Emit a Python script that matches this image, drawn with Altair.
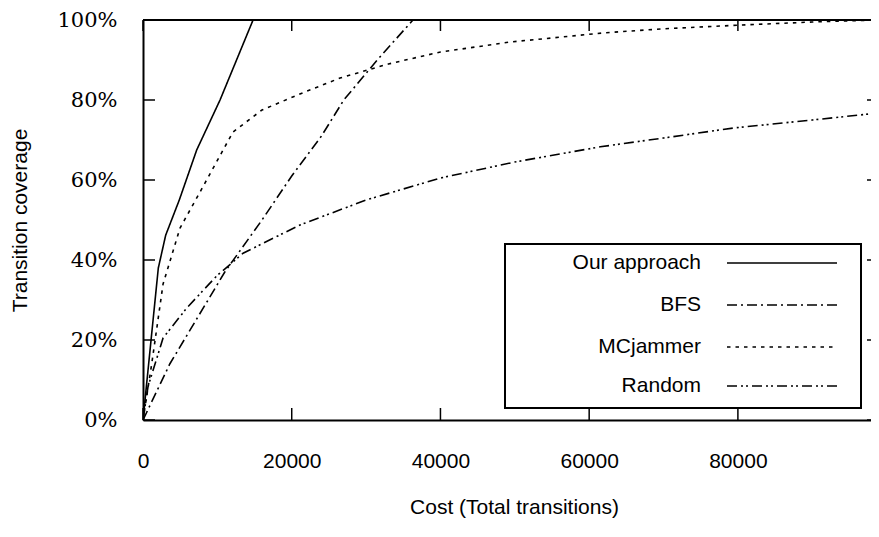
import altair as alt
import pandas as pd

series_names = ["Our approach", "BFS", "MCjammer", "Random"]

our_x = [0, 2060, 3050, 4880, 7220, 10360, 14800]
our_y = [0, 38, 46.2, 55, 67.5, 80, 100]

bfs_x = [0, 3600, 11000, 16000, 20000, 24000, 27000, 31500, 36300]
bfs_y = [0, 14, 37, 50, 61, 71, 80, 90, 100]

mc_x = [0, 1170, 2700, 4980, 7670, 12100, 16000, 21100, 26500, 33000, 40000, 49400, 62100, 70000, 80000, 90000, 98900]
mc_y = [0, 14, 34, 48, 57, 72, 77.5, 81.5, 85.5, 89, 92, 94.5, 96.8, 97.8, 98.7, 99.5, 100]

rnd_x = [0, 670, 2700, 5880, 9900, 13460, 21100, 30000, 40000, 50000, 61500, 70000, 79400, 90000, 98900]
rnd_y = [0, 8.3, 20.5, 28, 36, 41.7, 48.75, 55, 60.5, 64.5, 68.3, 70.5, 73, 75, 76.75]

x_ticks = [0, 20000, 40000, 60000, 80000]
y_ticks = [0, 20, 40, 60, 80, 100]

dashes = [[1, 0], [10, 4, 2, 4], [3.5, 5], [10, 4, 2, 3, 2, 4]]

rows = []
for name, xs, ys in zip(series_names, [our_x, bfs_x, mc_x, rnd_x], [our_y, bfs_y, mc_y, rnd_y]):
    for i, (xv, yv) in enumerate(zip(xs, ys)):
        rows.append({"series": name, "cost": xv, "cov": yv, "order": i})
df = pd.DataFrame(rows)

W, H = 728, 400
X_MAX = 97900

SANS = "Liberation Sans"
SERIF = "DejaVu Serif"
FS = 21

xscale = alt.Scale(domain=[0, X_MAX], nice=False, zero=False)
yscale = alt.Scale(domain=[0, 100], nice=False)

x_axis = alt.Axis(
    values=x_ticks, format="d", title="Cost (Total transitions)",
    ticks=False, tickSize=0, labelPadding=41, labelBaseline="middle",
    labelFont=SANS, labelFontSize=FS, labelColor="black",
    labelFlush=False, labelOverlap=False,
    domainColor="black", domainWidth=2, grid=False,
    titleFont=SANS, titleFontSize=FS, titleFontWeight="normal", titleColor="black",
    titleX=371, titleY=87, titleBaseline="middle", titleAlign="center")
y_axis = alt.Axis(
    values=y_ticks, labelExpr="datum.value + '%'", title="Transition coverage",
    ticks=False, tickSize=0, labelPadding=26, labelBaseline="middle",
    labelFont=SERIF, labelFontSize=FS, labelColor="black",
    labelFlush=False, labelOverlap=False,
    domainColor="black", domainWidth=2, grid=False,
    titleFont=SANS, titleFontSize=FS, titleFontWeight="normal", titleColor="black",
    titleX=-123, titleY=200, titleAngle=-90, titleBaseline="middle", titleAlign="center")

X = lambda: alt.X("cost:Q", scale=xscale, axis=x_axis)
Y = lambda: alt.Y("cov:Q", scale=yscale, axis=y_axis)

lines = alt.Chart(df).mark_line(strokeWidth=1.6, color="black", clip=True).encode(
    x=X(), y=Y(),
    strokeDash=alt.StrokeDash("series:N", scale=alt.Scale(domain=series_names, range=dashes), legend=None),
    detail="series:N",
    order="order:Q",
)

xt = pd.DataFrame({"cost": x_ticks})
yt = pd.DataFrame({"cov": y_ticks})

bottom_ticks = alt.Chart(xt).mark_rule(color="black", strokeWidth=1.5).encode(
    x=X(), y=alt.value(H), y2=alt.value(H - 12))
top_ticks = alt.Chart(xt).mark_rule(color="black", strokeWidth=1.5).encode(
    x=X(), y=alt.value(0), y2=alt.value(11))
left_ticks = alt.Chart(yt).mark_rule(color="black", strokeWidth=1.5).encode(
    y=Y(), x=alt.value(0), x2=alt.value(12))
right_ticks = alt.Chart(yt).mark_rule(color="black", strokeWidth=1.5).encode(
    y=Y(), x=alt.value(W - 4), x2=alt.value(W))
top_border = alt.Chart(pd.DataFrame({"a": [0]})).mark_rule(color="black", strokeWidth=2).encode(
    x=alt.value(0), x2=alt.value(W), y=alt.value(0))

# legend box
legend_layers = [
    alt.Chart(pd.DataFrame({"a": [0]})).mark_rect(fill="white", stroke="black", strokeWidth=2).encode(
        x=alt.value(362), x2=alt.value(718), y=alt.value(224), y2=alt.value(388))
]
legend_y = [243, 285, 327, 366]
for name, dash, ly in zip(series_names, dashes, legend_y):
    legend_layers.append(
        alt.Chart(pd.DataFrame({"t": [name]})).mark_text(
            align="right", baseline="middle", font=SANS, fontSize=FS, color="black").encode(
            x=alt.value(558), y=alt.value(ly), text="t:N"))
    legend_layers.append(
        alt.Chart(pd.DataFrame({"t": [name]})).mark_rule(
            color="black", strokeWidth=1.6, strokeDash=dash).encode(
            x=alt.value(584), x2=alt.value(694), y=alt.value(ly)))

chart = alt.layer(lines, bottom_ticks, top_ticks, left_ticks, right_ticks, top_border,
                  *legend_layers).properties(
    width=W, height=H,
    autosize=alt.AutoSizeParams(type="none"),
    padding={"left": 135, "top": 12, "right": 0, "bottom": 100},
).configure_view(stroke=None)

chart.save("out.html", embed_options={"renderer": "svg", "actions": False})
